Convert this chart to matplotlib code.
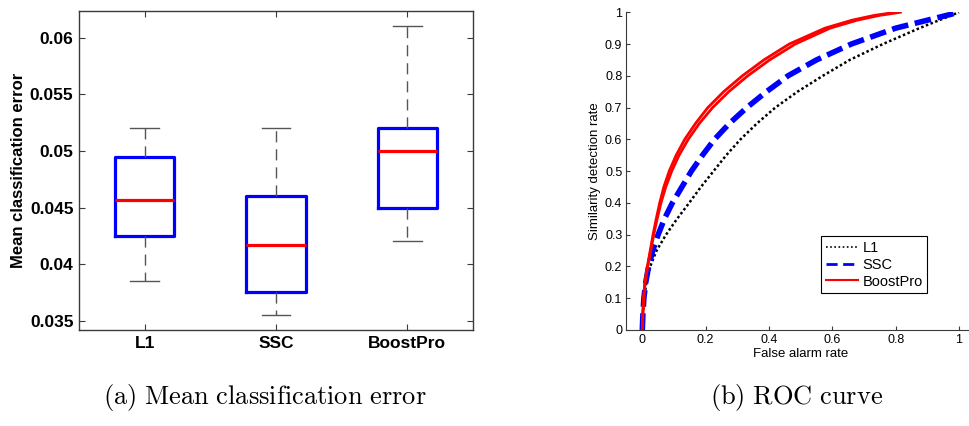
import matplotlib
matplotlib.use("Agg")
import matplotlib.pyplot as plt
from matplotlib.lines import Line2D

# ── Data ─────────────────────────────────────────────────────────────────────
# (a) box plot statistics
methods = ["L1", "SSC", "BoostPro"]
whisker_low = [0.0385, 0.0355, 0.0420]
q1 = [0.0425, 0.0375, 0.0450]
median = [0.0457, 0.0417, 0.0500]
q3 = [0.0495, 0.0460, 0.0520]
whisker_high = [0.0520, 0.0520, 0.0610]

# (b) ROC curves (false alarm rate, detection rate)
roc_tpr = [0.0, 0.05, 0.10, 0.15, 0.20, 0.25, 0.30, 0.35, 0.40, 0.45, 0.50, 0.55,
           0.60, 0.65, 0.70, 0.75, 0.80, 0.85, 0.90, 0.95, 1.0]

l1_far = [0.0, 0.002, 0.006, 0.013, 0.025, 0.045, 0.075, 0.110, 0.148, 0.185, 0.225,
          0.265, 0.310, 0.362, 0.420, 0.490, 0.570, 0.655, 0.760, 0.875, 1.0]
ssc_far = [0.0, 0.002, 0.005, 0.011, 0.020, 0.033, 0.050, 0.070, 0.095, 0.125, 0.155,
           0.190, 0.228, 0.275, 0.330, 0.392, 0.460, 0.550, 0.660, 0.800, 1.0]

boost_tpr = [0.0, 0.05, 0.10, 0.15, 0.20, 0.25, 0.30, 0.35, 0.40, 0.45, 0.50, 0.55,
             0.60, 0.65, 0.70, 0.75, 0.80, 0.85, 0.90, 0.95, 0.975, 0.99, 1.0]
boost_far_hi = [0.0, 0.001, 0.004, 0.008, 0.016, 0.025, 0.034, 0.044, 0.055, 0.068, 0.085,
                0.107, 0.134, 0.168, 0.207, 0.257, 0.316, 0.384, 0.464, 0.577, 0.662, 0.732, 0.800]
boost_far_lo = [0.0, 0.002, 0.005, 0.009, 0.017, 0.027, 0.036, 0.047, 0.059, 0.074, 0.093,
                0.116, 0.145, 0.180, 0.222, 0.273, 0.333, 0.402, 0.483, 0.593, 0.678, 0.748, 0.815]

# ── Figure ───────────────────────────────────────────────────────────────────
plt.rcParams["mathtext.fontset"] = "cm"
fig = plt.figure(figsize=(9.69, 4.26), dpi=100, facecolor="white")

SPINE = "#3a3a3a"
SANS = ["Liberation Sans", "DejaVu Sans"]

# (a) box plot
ax1 = fig.add_axes([0.0815, 0.2254, 0.4066, 0.7488])
stats = []
for i, m in enumerate(methods):
    stats.append(dict(label=m, whislo=whisker_low[i], q1=q1[i], med=median[i],
                      q3=q3[i], whishi=whisker_high[i], fliers=[]))
ax1.bxp(stats, positions=[1, 2, 3], widths=0.45, showfliers=False,
        boxprops=dict(color="#0000ff", linewidth=2.3),
        medianprops=dict(color="#ff0000", linewidth=2.3),
        whiskerprops=dict(color="#555555", linewidth=1.0, linestyle=(0, (8, 5))),
        capprops=dict(color="#555555", linewidth=1.0),
        capwidths=0.22)
ax1.set_xlim(0.5, 3.5)
ax1.set_ylim(0.03418, 0.06236)
ax1.set_yticks([0.035, 0.04, 0.045, 0.05, 0.055, 0.06])
ax1.set_yticklabels(["0.035", "0.04", "0.045", "0.05", "0.055", "0.06"])
ax1.tick_params(direction="in", top=True, right=True, length=4, color=SPINE,
                labelsize=12.5, pad=4)
for lab in ax1.get_xticklabels() + ax1.get_yticklabels():
    lab.set_fontweight("bold")
    lab.set_family(SANS)
ax1.set_ylabel("Mean classification error", fontsize=12, fontweight="bold",
               family=SANS, labelpad=3)
for s in ax1.spines.values():
    s.set_color(SPINE)
    s.set_linewidth(1.0)

# (b) ROC curve
ax2 = fig.add_axes([0.6465, 0.2254, 0.3595, 0.7458])
ax2.plot(l1_far, roc_tpr, color="black", linestyle=(0, (1, 1.0)), linewidth=1.8)
ax2.plot(ssc_far, roc_tpr, color="#0000ff", linestyle=(0, (3, 1.2)), linewidth=4.0)
ax2.plot(boost_far_hi, boost_tpr, color="#ff0000", linewidth=2.0)
ax2.plot(boost_far_lo, boost_tpr, color="#ff0000", linewidth=2.0)
ax2.set_xlim(-0.05, 1.05)
ax2.set_ylim(0, 1)
ax2.set_xticks([0, 0.2, 0.4, 0.6, 0.8, 1])
ax2.set_xticklabels(["0", "0.2", "0.4", "0.6", "0.8", "1"])
ax2.set_yticks([0, 0.1, 0.2, 0.3, 0.4, 0.5, 0.6, 0.7, 0.8, 0.9, 1])
ax2.set_yticklabels(["0", "0.1", "0.2", "0.3", "0.4", "0.5", "0.6", "0.7", "0.8", "0.9", "1"])
ax2.tick_params(direction="in", length=3, color=SPINE, labelsize=9, pad=3)
for lab in ax2.get_xticklabels() + ax2.get_yticklabels():
    lab.set_family(SANS)
ax2.spines["top"].set_visible(False)
ax2.spines["right"].set_visible(False)
for s in ("left", "bottom"):
    ax2.spines[s].set_color(SPINE)
ax2.set_xlabel("False alarm rate", fontsize=9.5, family=SANS, labelpad=1)
ax2.set_ylabel("Similarity detection rate", fontsize=9.5, family=SANS, labelpad=3)

handles = [Line2D([], [], color="black", linestyle=(0, (1, 1.5)), linewidth=1.2),
           Line2D([], [], color="#0000ff", linestyle=(0, (4, 2)), linewidth=2.0),
           Line2D([], [], color="#ff0000", linewidth=1.5)]
leg = ax2.legend(handles, ["L1", "SSC", "BoostPro"], loc="lower right",
                 bbox_to_anchor=(0.8625, 0.1165), fancybox=False, framealpha=1,
                 edgecolor="black", prop=dict(family=SANS, size=10.5),
                 handlelength=2.2, handletextpad=0.3, borderpad=0.3,
                 labelspacing=0.2, borderaxespad=0)
leg.get_frame().set_linewidth(0.8)

# captions
fig.text(0.2735, 0.068, r"$\mathrm{(a)\ Mean\ classification\ error}$",
         ha="center", va="center", fontsize=19)
fig.text(0.822, 0.068, r"$\mathrm{(b)\ ROC\ curve}$",
         ha="center", va="center", fontsize=19)

fig.savefig("out.png", dpi=100, facecolor="white")
